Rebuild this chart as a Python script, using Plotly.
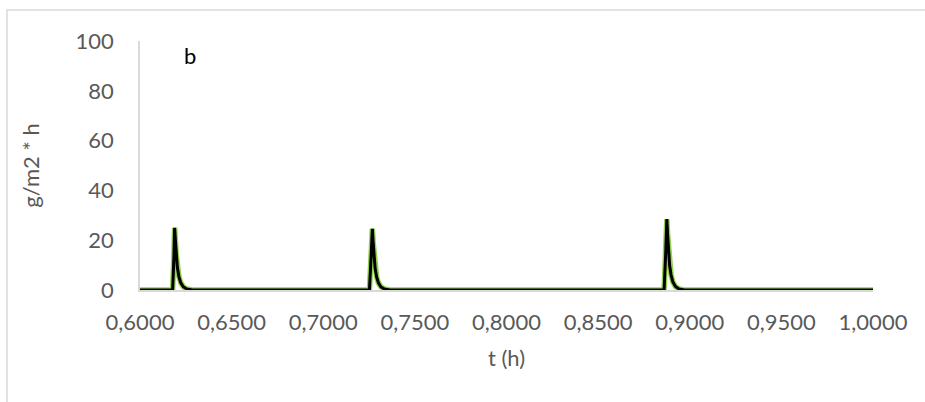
import plotly.graph_objects as go

# Data
t_hours = [0.6000, 0.6178, 0.6185, 0.6189, 0.6193, 0.6198, 0.6204, 0.6212, 0.6222, 0.6236, 0.6255, 0.6285,
           0.7252, 0.7261, 0.7268, 0.7272, 0.7277, 0.7283, 0.7291, 0.7301, 0.7315, 0.7334, 0.7364,
           0.8860, 0.8869, 0.8875, 0.8879, 0.8884, 0.8890, 0.8898, 0.8908, 0.8922, 0.8941, 0.8971,
           1.0000]
flux = [0.0, 0.0, 13.0, 25.0, 20.0, 14.0, 9.0, 5.5, 3.0, 1.3, 0.4, 0.0,
        0.0, 13.0, 24.6, 19.5, 13.5, 8.8, 5.3, 2.9, 1.2, 0.4, 0.0,
        0.0, 15.0, 28.5, 22.5, 15.5, 10.0, 6.0, 3.2, 1.4, 0.4, 0.0,
        0.0]

x_ticks = [0.60, 0.65, 0.70, 0.75, 0.80, 0.85, 0.90, 0.95, 1.00]
x_tick_labels = ["0,6000", "0,6500", "0,7000", "0,7500", "0,8000", "0,8500", "0,9000", "0,9500", "1,0000"]
y_ticks = [0, 20, 40, 60, 80, 100]

FONT = "Lato, 'Open Sans', sans-serif"
TICK_COLOR = "#595959"
FS = 22

fig = go.Figure()
fig.add_trace(go.Scatter(x=t_hours, y=flux, mode="lines",
                         line=dict(color="#92d050", width=5.5), hoverinfo="skip", showlegend=False))
fig.add_trace(go.Scatter(x=t_hours, y=flux, mode="lines",
                         line=dict(color="#000000", width=3), showlegend=False))

# Plot area: x 140..873, y 41..290 in a 925x402 page
L, R, T, B = 140, 52, 41, 112
W, H = 925, 402
pw, ph = W - L - R, H - T - B

def px(x):
    return (x - L) / pw

def py(y):
    return (H - B - y) / ph

fig.add_shape(type="rect", xref="paper", yref="paper",
              x0=px(7), x1=px(927), y0=py(404), y1=py(10),
              line=dict(color="#d9d9d9", width=1.5), fillcolor="rgba(0,0,0,0)", layer="below")

fig.add_annotation(x=px(182), y=py(40), xref="paper", yref="paper", text="b", showarrow=False,
                   font=dict(family=FONT, size=FS, color="#000000"))

fig.update_layout(
    width=W, height=H,
    margin=dict(l=L, r=R, t=T, b=B),
    paper_bgcolor="white", plot_bgcolor="white",
    font=dict(family=FONT, size=FS, color=TICK_COLOR),
    xaxis=dict(range=[0.6, 1.0], tickvals=x_ticks, ticktext=x_tick_labels,
               showgrid=False, zeroline=False, showline=True, linecolor="#d9d9d9", linewidth=1.5,
               ticks="", ticklabelstandoff=12,
               title=dict(text="t (h)", font=dict(family=FONT, size=FS, color=TICK_COLOR), standoff=16)),
    yaxis=dict(range=[0, 100], tickvals=y_ticks,
               showgrid=False, zeroline=False, showline=True, linecolor="#d9d9d9", linewidth=1.5,
               ticks="", ticklabelstandoff=20,
               title=dict(text="g/m2 * h", font=dict(family=FONT, size=FS, color=TICK_COLOR), standoff=30)),
)

fig.write_html("out.html")
